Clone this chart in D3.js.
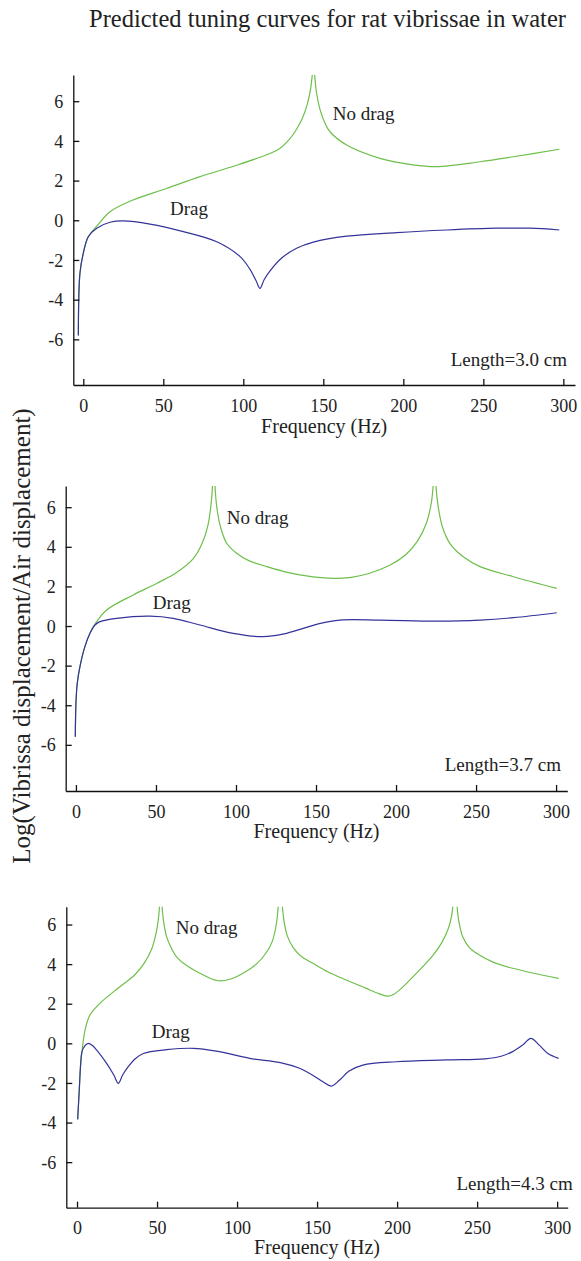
<!DOCTYPE html>
<html>
<head>
<meta charset="utf-8">
<script src="https://cdn.jsdelivr.net/npm/d3@7"></script>
<style>
  body { margin: 0; background: #fff; }
</style>
</head>
<body>
<svg id="chart"></svg>
<script>
var svgWidth = 581;
var svgHeight = 1261;
var serif = "'Liberation Serif', 'Times New Roman', Times, serif";

// tick values shared by the three panels
var xTicks = [0, 50, 100, 150, 200, 250, 300];
var yTicks = [-6, -4, -2, 0, 2, 4, 6];

// [frequency Hz, log ratio]; null = gap where the resonance runs off the top
var noDrag30 = [[-3.1,-5.8],[-2.1,-2.67],[0,-1.66],[3.1,-0.83],[8.4,-0.3],[16.7,0.43],[31,1.02],[52,1.6],[73,2.2],[93.8,2.72],[114.6,3.3],[123,3.63],[129,4.1],[133,4.55],[137,5.15],[140,5.85],[142,6.6],[143.2,7.4],[143.8,null],[144.5,7.4],[145.8,6.4],[148,5.56],[151,4.9],[154.2,4.46],[164.6,3.79],[185.4,3.12],[206,2.79],[220.8,2.7],[248,2.95],[268.7,3.2],[297.5,3.58]];
var drag30 = [[-3.1,-5.8],[-2.1,-2.67],[0,-1.66],[3.1,-0.83],[8.4,-0.4],[16.7,-0.1],[25,-0.03],[41.7,-0.19],[62.5,-0.57],[83.4,-1.08],[98,-1.83],[104,-2.45],[108,-3.05],[110.4,-3.43],[113,-3.0],[116.7,-2.55],[124,-1.9],[133.3,-1.41],[143.8,-1.1],[164.6,-0.8],[195.9,-0.62],[227,-0.49],[258.4,-0.4],[279,-0.4],[297.5,-0.49]];

var noDrag37 = [[-0.4,-5.59],[0,-3.9],[0.8,-2.9],[2.5,-2.05],[5.6,-1.04],[8.75,-0.37],[11.9,0.1],[19.2,0.81],[35.8,1.57],[50.4,2.15],[62.9,2.7],[73.3,3.4],[79,4.2],[82.5,5.1],[84.5,6.2],[85.4,7.2],[86,null],[86.8,7.2],[88,6.0],[90.5,4.95],[94.2,4.18],[100,3.7],[108,3.3],[119.2,3.0],[130,2.75],[145,2.52],[160.8,2.41],[172,2.46],[183,2.65],[196.3,3.08],[206,3.6],[213.5,4.3],[219,5.2],[222,6.2],[223.3,7.2],[224,null],[224.8,7.2],[226.2,6.1],[229,5.0],[233.8,4.15],[242,3.5],[252.5,3.0],[273.3,2.49],[300.4,1.9]];
var drag37 = [[-0.4,-5.59],[0,-3.9],[0.8,-2.9],[2.5,-2.05],[5.6,-1.04],[8.75,-0.37],[11.9,0.05],[15,0.22],[25.4,0.39],[46.3,0.5],[60.8,0.39],[77.5,0.05],[98.3,-0.37],[117,-0.54],[130,-0.4],[142,-0.12],[152,0.12],[165,0.3],[190,0.3],[225.4,0.25],[252.5,0.3],[273.3,0.42],[300.4,0.67]];

var noDrag43 = [[0.4,-3.84],[1.4,-2.36],[2.3,-1.01],[3.1,-0.42],[5,0.67],[8.1,1.43],[14.3,2.02],[26.8,2.86],[36,3.45],[42,4.05],[46.6,4.75],[49.5,5.6],[51,6.4],[51.6,7.0],[52.3,null],[53.1,7.0],[54,6.2],[56,5.38],[59,4.8],[62.2,4.37],[69,3.9],[76.7,3.54],[88.1,3.16],[96,3.25],[104,3.55],[112,4.0],[118,4.55],[122,5.15],[124.5,6.0],[125.8,7.0],[127,null],[128.2,7.0],[129.5,6.1],[131.5,5.4],[135,4.85],[140,4.4],[147.4,4.04],[157,3.6],[168.2,3.2],[180,2.8],[189,2.5],[194.2,2.38],[198,2.48],[203,2.8],[214,3.7],[222,4.4],[228,5.1],[232,5.8],[234,6.4],[234.9,7.0],[236.2,null],[237.4,7.0],[238.5,6.2],[241,5.38],[245,4.85],[251.4,4.46],[260,4.1],[272.2,3.79],[300.9,3.28]];
var drag43 = [[0.4,-3.84],[1.4,-2.36],[2.3,-1.01],[3.1,-0.42],[5,-0.12],[7,0],[9.5,-0.1],[12.3,-0.34],[18.5,-1.01],[23,-1.6],[25.8,-2.02],[28.5,-1.6],[32,-1.18],[36,-0.8],[41.4,-0.51],[56,-0.32],[72.6,-0.25],[87.1,-0.39],[107.9,-0.76],[127,-0.97],[139.1,-1.26],[147,-1.6],[153.7,-1.94],[158.9,-2.16],[164.1,-1.85],[170,-1.4],[178.6,-1.1],[199.4,-0.93],[230.6,-0.84],[255,-0.78],[265,-0.65],[272.2,-0.42],[278.4,-0.09],[283.6,0.25],[288.8,-0.09],[294,-0.5],[300.9,-0.76]];

var lengths = ["3.0", "3.7", "4.3"];

// layout for each panel (pixel boxes + label spots)
var panels = [
  { noDrag: noDrag30, drag: drag30, left: 73.3, right: 575, top: 75, bottom: 385,
    xDomain: [-6.25, 307.3], yDomain: [-8.3, 7.32], xLabelDy: 48,
    dragAt: [170, 215], noDragAt: [332.7, 120], lenAt: [567, 366] },
  { noDrag: noDrag37, drag: drag37, left: 65.7, right: 567.3, top: 486, bottom: 791,
    xDomain: [-6.4, 307], yDomain: [-8.33, 7.07], xLabelDy: 47,
    dragAt: [152.7, 609.3], noDragAt: [226.7, 524.3], lenAt: [561, 771] },
  { noDrag: noDrag43, drag: drag43, left: 66.3, right: 567.7, top: 906.7, bottom: 1207.7,
    xDomain: [-6.7, 306.6], yDomain: [-8.3, 6.9], xLabelDy: 46.5,
    dragAt: [151.7, 1037.7], noDragAt: [175.7, 934.3], lenAt: [572.7, 1190.3] }
];

var green = "#6dbf4a";
var blue = "#33339a";

var svg = d3.select("#chart")
    .attr("width", svgWidth)
    .attr("height", svgHeight);

function label(sel, size) {
  return sel.style("font-family", serif).style("font-size", size + "px").attr("fill", "#222");
}

label(svg.append("text"), 24.5)
    .attr("x", 327.5)
    .attr("y", 27)
    .attr("text-anchor", "middle")
    .text("Predicted tuning curves for rat vibrissae in water");

label(svg.append("text"), 25)
    .attr("transform", "translate(29.5,636) rotate(-90)")
    .attr("text-anchor", "middle")
    .text("Log(Vibrissa displacement/Air displacement)");

panels.forEach(function(p, i) {
  var x = d3.scaleLinear().domain(p.xDomain).range([p.left, p.right]);
  var y = d3.scaleLinear().domain(p.yDomain).range([p.bottom, p.top]);

  var clipId = "clip" + i;
  svg.append("clipPath").attr("id", clipId)
    .append("rect")
    .attr("x", p.left).attr("y", p.top)
    .attr("width", p.right - p.left).attr("height", p.bottom - p.top);

  var line = d3.line()
      .defined(function(d) { return d[1] !== null; })
      .x(function(d) { return x(d[0]); })
      .y(function(d) { return y(d[1]); })
      .curve(d3.curveCatmullRom.alpha(0.5));

  var plot = svg.append("g").attr("clip-path", "url(#" + clipId + ")");
  plot.append("path").datum(p.noDrag)
      .attr("d", line).attr("fill", "none")
      .attr("stroke", green).attr("stroke-width", 1.2);
  plot.append("path").datum(p.drag)
      .attr("d", line).attr("fill", "none")
      .attr("stroke", blue).attr("stroke-width", 1.2);

  var xAxis = svg.append("g")
      .attr("transform", "translate(0," + p.bottom + ")")
      .call(d3.axisBottom(x).tickValues(xTicks).tickSizeInner(-6).tickSizeOuter(0)
            .tickPadding(14).tickFormat(function(d) { return String(d); }));

  var yAxis = svg.append("g")
      .attr("transform", "translate(" + p.left + ",0)")
      .call(d3.axisLeft(y).tickValues(yTicks).tickSizeInner(-6).tickSizeOuter(0)
            .tickPadding(10).tickFormat(function(d) { return String(d); }));

  [xAxis, yAxis].forEach(function(a) {
    a.attr("font-family", null).attr("font-size", null);
    a.selectAll("path, line").attr("stroke", "#111").attr("stroke-width", 1.3);
    label(a.selectAll("text"), 18);
  });
  yAxis.selectAll("text").attr("dy", "0.34em");

  label(svg.append("text"), 20)
      .attr("x", (p.left + p.right) / 2)
      .attr("y", p.bottom + p.xLabelDy)
      .attr("text-anchor", "middle")
      .text("Frequency (Hz)");

  label(svg.append("text"), 19)
      .attr("x", p.dragAt[0]).attr("y", p.dragAt[1])
      .text("Drag");

  label(svg.append("text"), 19)
      .attr("x", p.noDragAt[0]).attr("y", p.noDragAt[1])
      .text("No drag");

  label(svg.append("text"), 19)
      .attr("x", p.lenAt[0]).attr("y", p.lenAt[1])
      .attr("text-anchor", "end")
      .text("Length=" + lengths[i] + " cm");
});
</script>
</body>
</html>
